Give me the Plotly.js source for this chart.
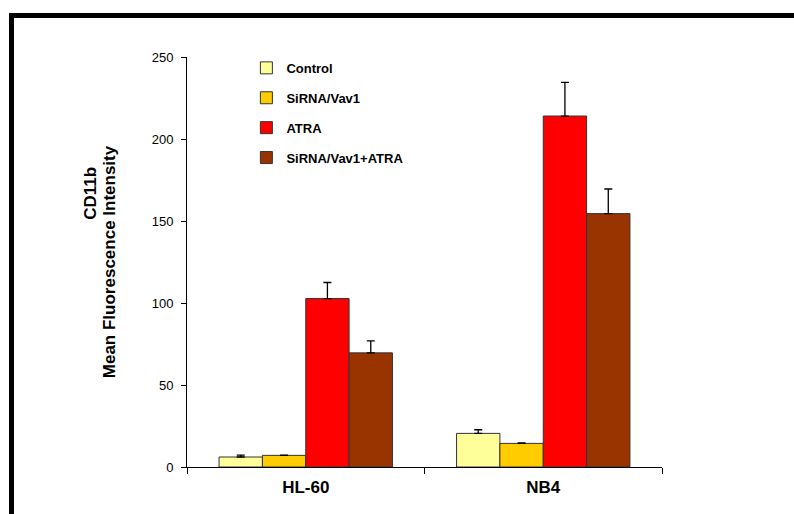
<!DOCTYPE html>
<html>
<head>
<meta charset="utf-8">
<script src="https://cdn.plot.ly/plotly-3.0.1.min.js"></script>
<style>
  html, body { margin: 0; padding: 0; background: #fff; }
  #wrap { position: relative; width: 794px; height: 514px; overflow: hidden; }
  #chart { position: absolute; left: 0; top: 0; width: 794px; height: 514px; }
  #frame { position: absolute; left: 9px; top: 13px; width: 800px; height: 520px;
           border-top: 5px solid #000; border-left: 5px solid #000; pointer-events: none; }
</style>
</head>
<body>
<div id="wrap">
  <div id="chart"></div>
  <div id="frame"></div>
</div>
<script>
// ---- data ----
const categories = ["HL-60", "NB4"];
const seriesNames = ["Control", "SiRNA/Vav1", "ATRA", "SiRNA/Vav1+ATRA"];
const controlValues = [6.1, 20.5];
const sirnaValues = [7.1, 14.4];
const atraValues = [102.7, 214];
const comboValues = [69.6, 154.5];
const controlErr = [1.2, 2.2];
const sirnaErr = [0.2, 0.3];
const atraErr = [9.8, 20.5];
const comboErr = [7.3, 15];
const yTicks = [0, 50, 100, 150, 200, 250];
const yTitleTop = "CD11b";
const yTitleMain = "Mean Fluorescence Intensity";

const colors = ["#FFFF99", "#FFCC00", "#FF0000", "#993300"];
const values = [controlValues, sirnaValues, atraValues, comboValues];
const errs = [controlErr, sirnaErr, atraErr, comboErr];

const traces = seriesNames.map((name, i) => ({
  type: "bar",
  name: name,
  x: categories,
  y: values[i],
  legendgroup: "g" + i,
  marker: { color: colors[i], line: { color: "#333333", width: 1 } },
  error_y: { type: "data", array: errs[i], symmetric: false, arrayminus: [0, 0],
             color: "#000000", thickness: 1.3, width: 4 }
}));

const font = { family: "Liberation Sans, Arial, sans-serif", color: "#000" };
const titleFont = { family: font.family, size: 17, weight: "bold", color: "#000" };

const layout = {
  width: 794, height: 514,
  paper_bgcolor: "#fff", plot_bgcolor: "#fff",
  margin: { l: 187, r: 132, t: 57, b: 47, pad: 0 },
  barmode: "group", bargap: 0.27, bargroupgap: 0,
  font: font,
  showlegend: true,
  legend: {
    x: 0.125, xanchor: "left", y: 1.01, yanchor: "top",
    bgcolor: "rgba(0,0,0,0)", borderwidth: 0,
    font: { family: font.family, size: 13, weight: "bold", color: "#000" },
    tracegroupgap: 10, traceorder: "grouped"
  },
  xaxis: {
    type: "category", range: [-0.5, 1.5],
    showline: true, linecolor: "#000", linewidth: 1,
    ticks: "outside", tickson: "boundaries", ticklen: 6, tickcolor: "#000", tickwidth: 1,
    ticklabelstandoff: 5,
    tickfont: { family: font.family, size: 17, weight: "bold", color: "#000" },
    showgrid: false, zeroline: false, fixedrange: true
  },
  yaxis: {
    range: [0, 250], tickvals: yTicks, ticktext: yTicks.map(String),
    showline: true, linecolor: "#000", linewidth: 1,
    ticks: "outside", ticklen: 5, tickcolor: "#000", tickwidth: 1,
    ticklabelstandoff: 5,
    tickfont: { family: font.family, size: 13, color: "#000" },
    showgrid: false, zeroline: false, fixedrange: true,
    title: { text: yTitleMain, standoff: 31, font: titleFont },
    automargin: false
  },
  annotations: [{
    text: yTitleTop, textangle: -90, showarrow: false,
    xref: "paper", yref: "paper", x: -0.205, y: 0.668,
    xanchor: "center", yanchor: "middle", font: titleFont
  }]
};

Plotly.newPlot("chart", traces, layout, { displayModeBar: false, staticPlot: true });
</script>
</body>
</html>
